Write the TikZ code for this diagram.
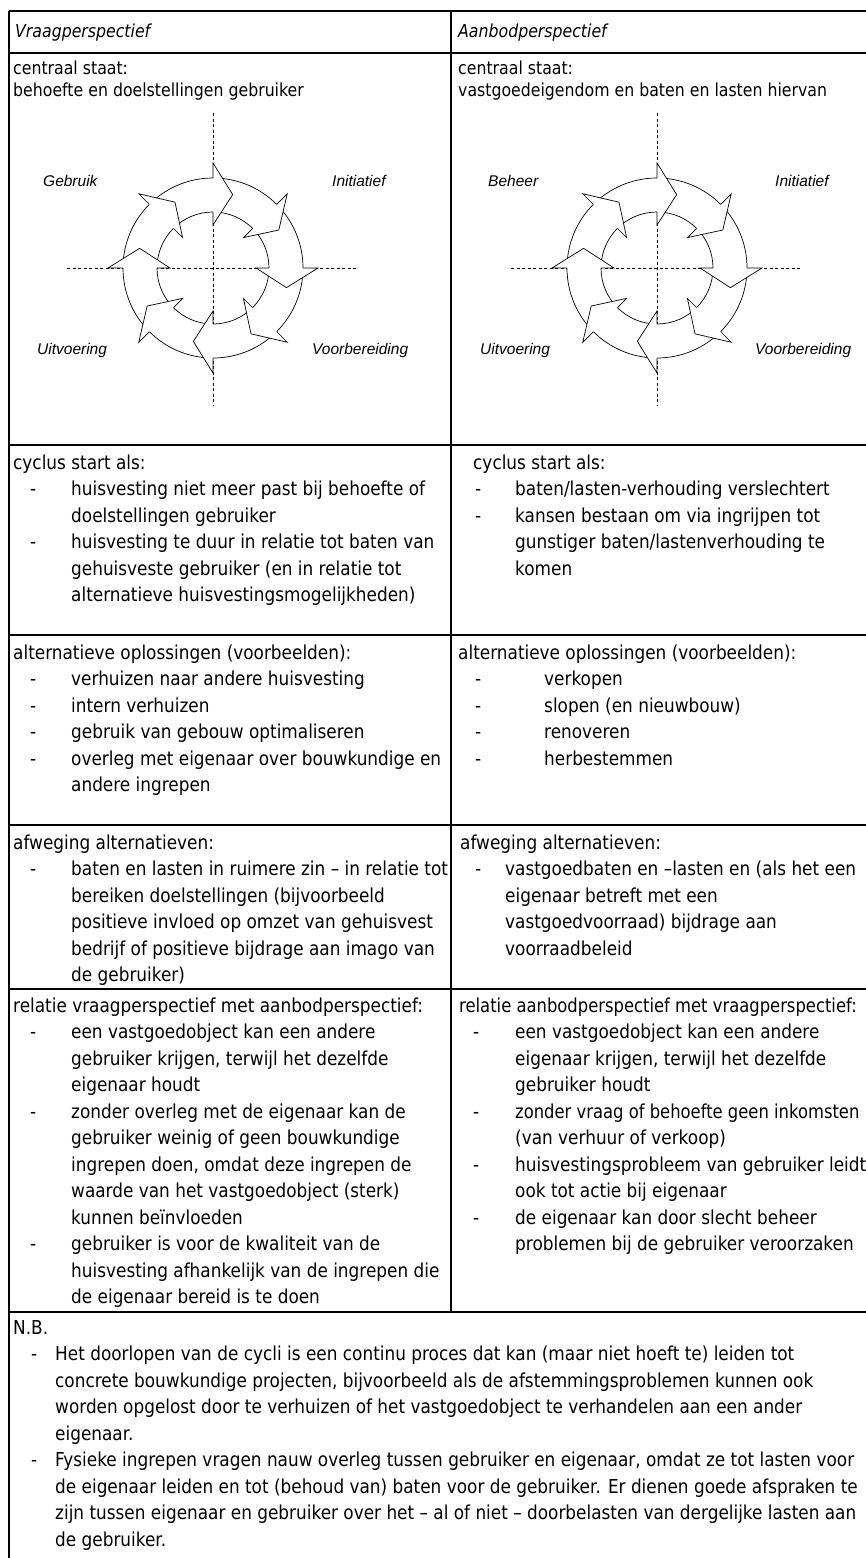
\documentclass[tikz,border=0pt]{standalone}
\usepackage{fontspec}
\setmainfont{DejaVu Sans}[FakeStretch=0.88]
\newfontfamily\lblfont{Liberation Sans}
\newcommand{\cycdiagram}{%
  \draw[dsh] (-146,0) -- (145,0);
  \draw[dsh] (0,155) -- (0,-137);
  \fill[white, even odd rule] (0,0) circle[radius=90] (0,0) circle[radius=56];
  \draw[ringline] (0,0) circle[radius=90] (0,0) circle[radius=56];
  \foreach \b in {90,45,...,-225} {
    \pgfmathsetmacro\tp{\b-15}
    \fill[white] (\b:105) -- (\tp:76) -- (\b:43) -- cycle;
    \draw[ringline, line join=miter] (\b:90) -- (\b:105) -- (\tp:76) -- (\b:43) -- (\b:56);
  }%
}
\newcommand{\sq}[1]{\scalebox{0.97}[1]{#1}}
\begin{document}
\begin{tikzpicture}[x=1pt,y=-1pt,
  body/.style={anchor=base west, inner sep=0pt, font=\fontsize{19.2}{25}\selectfont},
  small/.style={anchor=base west, inner sep=0pt, font=\fontsize{17.9}{21}\selectfont},
  smallit/.style={small, font=\fontsize{17.9}{21}\selectfont\itshape},
  lbl/.style={anchor=base west, inner sep=0pt, font=\lblfont\itshape\fontsize{15.5}{18}\selectfont},
  rule/.style={line width=1.6pt},
  dsh/.style={line width=0.7pt, dash pattern=on 3pt off 2.5pt},
  ringline/.style={line width=0.7pt}]
\useasboundingbox (0,0) rectangle (866,1558);

% ---------- table rules ----------
\foreach \yy in {11,53,445,635,825,989,1312} {\draw[rule] (9,\yy) -- (866,\yy);}
\draw[rule] (9,11) -- (9,1558);
\draw[rule] (451,11) -- (451,1312);

% ---------- header ----------
\node[smallit] (hL) at (15,37) {Vraagperspectief};
\node[smallit] (hR) at (458,37) {Aanbodperspectief};

% ---------- row 2 ----------
\node[small] (cL1) at (13,74) {centraal staat:};
\node[small] (cL2) at (13,96) {behoefte en doelstellingen gebruiker};
\node[small] (cR1) at (458,74) {centraal staat:};
\node[small] (cR2) at (458,96) {vastgoedeigendom en baten en lasten hiervan};

\begin{scope}[shift={(213,268)}, yscale=-1]
  \cycdiagram
\end{scope}
\begin{scope}[shift={(657,268)}, yscale=-1]
  \cycdiagram
\end{scope}
\node[lbl] (gL) at (43,186) {Gebruik};
\node[lbl] (iL) at (332,186) {Initiatief};
\node[lbl] (uL) at (37,354) {Uitvoering};
\node[lbl] (vL) at (312,354) {Voorbereiding};
\node[lbl] (gR) at (488,186) {Beheer};
\node[lbl] (iR) at (775,186) {Initiatief};
\node[lbl] (uR) at (480,354) {Uitvoering};
\node[lbl] (vR) at (755,354) {Voorbereiding};

% ---------- row 3 ----------
\node[body] (aL0) at (13,469) {cyclus start als:};
\node[body] (aLd1) at (30,495.5) {-};
\node[body] (aL1) at (71,495.5) {huisvesting niet meer past bij behoefte of};
\node[body] (aL2) at (71,522) {doelstellingen gebruiker};
\node[body] (aLd2) at (30,548.5) {-};
\node[body] (aL3) at (71,548.5) {huisvesting te duur in relatie tot baten van};
\node[body] (aL4) at (71,575) {gehuisveste gebruiker (en in relatie tot};
\node[body] (aL5) at (71,601.5) {alternatieve huisvestingsmogelijkheden)};
\node[body] (aR0) at (473,469) {cyclus start als:};
\node[body] (aRd1) at (475,495.5) {-};
\node[body] (aR1) at (515,495.5) {baten/lasten-verhouding verslechtert};
\node[body] (aRd2) at (475,522) {-};
\node[body] (aR2) at (515,522) {kansen bestaan om via ingrijpen tot};
\node[body] (aR3) at (515,548.5) {gunstiger baten/lastenverhouding te};
\node[body] (aR4) at (515,575) {komen};

% ---------- row 4 ----------
\node[body] (bL0) at (13,659) {alternatieve oplossingen (voorbeelden):};
\node[body] (bLd1) at (30,685.5) {-};
\node[body] (bL1) at (71,685.5) {verhuizen naar andere huisvesting};
\node[body] (bLd2) at (30,712) {-};
\node[body] (bL2) at (71,712) {intern verhuizen};
\node[body] (bLd3) at (30,738.5) {-};
\node[body] (bL3) at (71,738.5) {gebruik van gebouw optimaliseren};
\node[body] (bLd4) at (30,765) {-};
\node[body] (bL4) at (71,765) {overleg met eigenaar over bouwkundige en};
\node[body] (bL5) at (71,791.5) {andere ingrepen};
\node[body] (bR0) at (458,659) {alternatieve oplossingen (voorbeelden):};
\node[body] (bRd1) at (475,685.5) {-};
\node[body] (bR1) at (544,685.5) {verkopen};
\node[body] (bRd2) at (475,712) {-};
\node[body] (bR2) at (544,712) {slopen (en nieuwbouw)};
\node[body] (bRd3) at (475,738.5) {-};
\node[body] (bR3) at (544,738.5) {renoveren};
\node[body] (bRd4) at (475,765) {-};
\node[body] (bR4) at (544,765) {herbestemmen};

% ---------- row 5 ----------
\node[body] (cL0) at (13,849) {afweging alternatieven:};
\node[body] (cLd1) at (30,875.5) {-};
\node[body] (cLa) at (71,875.5) {baten en lasten in ruimere zin – in relatie tot};
\node[body] (cLb) at (71,902) {bereiken doelstellingen (bijvoorbeeld};
\node[body] (cLc) at (71,928.5) {positieve invloed op omzet van gehuisvest};
\node[body] (cLe) at (71,955) {bedrijf of positieve bijdrage aan imago van};
\node[body] (cLf) at (71,981.5) {de gebruiker)};
\node[body] (cR0) at (460,849) {afweging alternatieven:};
\node[body] (cRd1) at (475,875.5) {-};
\node[body] (cRa) at (505,875.5) {vastgoedbaten en –lasten en (als het een};
\node[body] (cRb) at (505,902) {eigenaar betreft met een};
\node[body] (cRc) at (505,928.5) {vastgoedvoorraad) bijdrage aan};
\node[body] (cRe) at (505,955) {voorraadbeleid};

% ---------- row 6 ----------
\node[body] (dL0) at (13,1012) {relatie vraagperspectief met aanbodperspectief:};
\node[body] (dLd1) at (30,1038.5) {-};
\node[body] (dL1) at (71,1038.5) {een vastgoedobject kan een andere};
\node[body] (dL2) at (71,1065) {gebruiker krijgen, terwijl het dezelfde};
\node[body] (dL3) at (71,1091.5) {eigenaar houdt};
\node[body] (dLd2) at (30,1118) {-};
\node[body] (dL4) at (71,1118) {zonder overleg met de eigenaar kan de};
\node[body] (dL5) at (71,1144.5) {gebruiker weinig of geen bouwkundige};
\node[body] (dL6) at (71,1171) {ingrepen doen, omdat deze ingrepen de};
\node[body] (dL7) at (71,1197.5) {waarde van het vastgoedobject (sterk)};
\node[body] (dL8) at (71,1224) {kunnen beïnvloeden};
\node[body] (dLd3) at (30,1250.5) {-};
\node[body] (dL9) at (71,1250.5) {gebruiker is voor de kwaliteit van de};
\node[body] (dL10) at (71,1277) {huisvesting afhankelijk van de ingrepen die};
\node[body] (dL11) at (71,1303.5) {de eigenaar bereid is te doen};
\node[body] (dR0) at (459,1012) {\sq{relatie aanbodperspectief met vraagperspectief:}};
\node[body] (dRd1) at (473,1038.5) {-};
\node[body] (dR1) at (515,1038.5) {een vastgoedobject kan een andere};
\node[body] (dR2) at (515,1065) {eigenaar krijgen, terwijl het dezelfde};
\node[body] (dR3) at (515,1091.5) {gebruiker houdt};
\node[body] (dRd2) at (473,1118) {-};
\node[body] (dR4) at (515,1118) {\sq{zonder vraag of behoefte geen inkomsten}};
\node[body] (dR5) at (515,1144.5) {(van verhuur of verkoop)};
\node[body] (dRd3) at (473,1171) {-};
\node[body] (dR6) at (515,1171) {huisvestingsprobleem van gebruiker leidt};
\node[body] (dR7) at (515,1197.5) {ook tot actie bij eigenaar};
\node[body] (dRd4) at (473,1224) {-};
\node[body] (dR8) at (515,1224) {de eigenaar kan door slecht beheer};
\node[body] (dR9) at (515,1250.5) {problemen bij de gebruiker veroorzaken};

% ---------- row 7 ----------
\node[body] (eL0) at (13,1334) {N.B.};
\node[body] (eLd1) at (31,1360.5) {-};
\node[body] (eL1) at (55,1360.5) {Het doorlopen van de cycli is een continu proces dat kan (maar niet hoeft te) leiden tot};
\node[body] (eL2) at (55,1387) {concrete bouwkundige projecten, bijvoorbeeld als de afstemmingsproblemen kunnen ook};
\node[body] (eL3) at (55,1413.5) {worden opgelost door te verhuizen of het vastgoedobject te verhandelen aan een ander};
\node[body] (eL4) at (55,1440) {eigenaar.};
\node[body] (eLd2) at (31,1466.5) {-};
\node[body] (eL5) at (55,1466.5) {Fysieke ingrepen vragen nauw overleg tussen gebruiker en eigenaar, omdat ze tot lasten voor};
\node[body] (eL6) at (55,1493) {de eigenaar leiden en tot (behoud van) baten voor de gebruiker. Er dienen goede afspraken te};
\node[body] (eL7) at (55,1519.5) {zijn tussen eigenaar en gebruiker over het – al of niet – doorbelasten van dergelijke lasten aan};
\node[body] (eL8) at (55,1546) {de gebruiker.};
\end{tikzpicture}
\end{document}
